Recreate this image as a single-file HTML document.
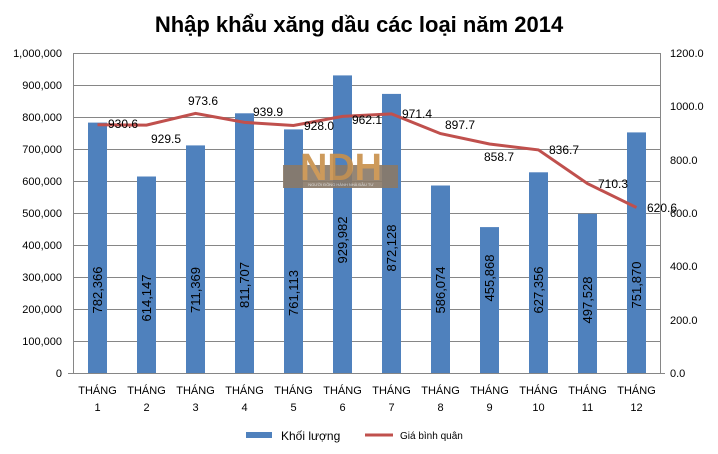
<!DOCTYPE html>
<html><head><meta charset="utf-8"><style>
html,body{margin:0;padding:0;background:#fff;}
svg{display:block;font-family:"Liberation Sans",Arial,sans-serif;}
</style></head><body>
<svg width="718" height="454" viewBox="0 0 718 454" xmlns="http://www.w3.org/2000/svg">
<rect width="718" height="454" fill="#fff"/>
<text x="359" y="32" text-anchor="middle" font-size="22" font-weight="bold" fill="#000">Nhập khẩu xăng dầu các loại năm 2014</text>
<g stroke="#868686" stroke-width="1">
<line x1="73" y1="53.5" x2="660" y2="53.5"/><line x1="73" y1="85.5" x2="660" y2="85.5"/>
<line x1="73" y1="117.5" x2="660" y2="117.5"/><line x1="73" y1="149.5" x2="660" y2="149.5"/>
<line x1="73" y1="181.5" x2="660" y2="181.5"/><line x1="73" y1="213.5" x2="660" y2="213.5"/>
<line x1="73" y1="245.5" x2="660" y2="245.5"/><line x1="73" y1="277.5" x2="660" y2="277.5"/>
<line x1="73" y1="309.5" x2="660" y2="309.5"/><line x1="73" y1="341.5" x2="660" y2="341.5"/>
<line x1="73.5" y1="53" x2="73.5" y2="373"/><line x1="660.5" y1="53" x2="660.5" y2="373"/>
<line x1="68" y1="373.5" x2="665" y2="373.5"/>
</g>
<g font-size="11" fill="#000" text-anchor="end">
<text x="62" y="57">1,000,000</text><text x="62" y="89">900,000</text><text x="62" y="121">800,000</text>
<text x="62" y="153">700,000</text><text x="62" y="185">600,000</text><text x="62" y="217">500,000</text>
<text x="62" y="249">400,000</text><text x="62" y="281">300,000</text><text x="62" y="313">200,000</text>
<text x="62" y="345">100,000</text><text x="62" y="377">0</text>
</g>
<g font-size="11" fill="#000" text-anchor="start">
<text x="670" y="57">1200.0</text><text x="670" y="110">1000.0</text><text x="670" y="164">800.0</text>
<text x="670" y="217">600.0</text><text x="670" y="270">400.0</text><text x="670" y="324">200.0</text><text x="670" y="377">0.0</text>
</g>
<g fill="#4f81bd">
<rect x="88" y="122.6" width="19" height="250.4"/>
<rect x="137" y="176.5" width="19" height="196.5"/>
<rect x="186" y="145.4" width="19" height="227.6"/>
<rect x="235" y="113.3" width="19" height="259.7"/>
<rect x="284" y="129.4" width="19" height="243.6"/>
<rect x="333" y="75.4" width="19" height="297.6"/>
<rect x="382" y="93.9" width="19" height="279.1"/>
<rect x="431" y="185.5" width="19" height="187.5"/>
<rect x="480" y="227.1" width="19" height="145.9"/>
<rect x="529" y="172.3" width="19" height="200.7"/>
<rect x="578" y="213.8" width="19" height="159.2"/>
<rect x="627" y="132.4" width="19" height="240.6"/>
</g>
<g opacity="0.9">
<rect x="283" y="165" width="115" height="23" fill="#8a7a68"/>
<text x="341" y="180" text-anchor="middle" font-size="38" font-weight="bold" fill="#c8904a" textLength="82" lengthAdjust="spacingAndGlyphs">NDH</text>
<text x="341" y="186" text-anchor="middle" font-size="4" fill="#ddd">NGƯỜI ĐỒNG HÀNH NHÀ ĐẦU TƯ</text>
</g>
<g font-size="13" fill="#000" text-anchor="middle">
<text transform="translate(102,290) rotate(-90)">782,366</text>
<text transform="translate(151,298) rotate(-90)">614,147</text>
<text transform="translate(200,290) rotate(-90)">711,369</text>
<text transform="translate(249,285) rotate(-90)">811,707</text>
<text transform="translate(298,293) rotate(-90)">761,113</text>
<text transform="translate(347,240) rotate(-90)">929,982</text>
<text transform="translate(396,248) rotate(-90)">872,128</text>
<text transform="translate(445,290) rotate(-90)">586,074</text>
<text transform="translate(494,278) rotate(-90)">455,868</text>
<text transform="translate(543,290) rotate(-90)">627,356</text>
<text transform="translate(592,300) rotate(-90)">497,528</text>
<text transform="translate(641,285) rotate(-90)">751,870</text>
</g>
<polyline fill="none" stroke="#c0504d" stroke-width="3" points="97.5,124.8 146.5,125.1 195.5,113.4 244.5,122.4 293.5,125.5 342.5,116.4 391.5,113.9 440.5,133.6 489.5,144.0 538.5,149.9 587.5,183.6 636.5,207.5"/>
<g font-size="12" fill="#000" text-anchor="middle">
<text x="123" y="128">930.6</text><text x="166" y="143">929.5</text><text x="203" y="105">973.6</text>
<text x="268" y="116">939.9</text><text x="319" y="130">928.0</text><text x="367" y="124">962.1</text>
<text x="417" y="118">971.4</text><text x="460" y="129">897.7</text><text x="499" y="161">858.7</text>
<text x="564" y="154">836.7</text><text x="613" y="188">710.3</text><text x="662" y="212">620.6</text>
</g>
<g font-size="11" fill="#000" text-anchor="middle">
<text x="97.5" y="394">THÁNG</text><text x="97.5" y="411">1</text>
<text x="146.5" y="394">THÁNG</text><text x="146.5" y="411">2</text>
<text x="195.5" y="394">THÁNG</text><text x="195.5" y="411">3</text>
<text x="244.5" y="394">THÁNG</text><text x="244.5" y="411">4</text>
<text x="293.5" y="394">THÁNG</text><text x="293.5" y="411">5</text>
<text x="342.5" y="394">THÁNG</text><text x="342.5" y="411">6</text>
<text x="391.5" y="394">THÁNG</text><text x="391.5" y="411">7</text>
<text x="440.5" y="394">THÁNG</text><text x="440.5" y="411">8</text>
<text x="489.5" y="394">THÁNG</text><text x="489.5" y="411">9</text>
<text x="538.5" y="394">THÁNG</text><text x="538.5" y="411">10</text>
<text x="587.5" y="394">THÁNG</text><text x="587.5" y="411">11</text>
<text x="636.5" y="394">THÁNG</text><text x="636.5" y="411">12</text>
</g>
<rect x="246" y="432" width="26" height="6" fill="#4f81bd"/>
<text x="281" y="440" font-size="12" fill="#000">Khối lượng</text>
<line x1="365" y1="435" x2="393" y2="435" stroke="#c0504d" stroke-width="3"/>
<text x="400" y="439" font-size="10" fill="#000">Giá bình quân</text>
</svg>
</body></html>
